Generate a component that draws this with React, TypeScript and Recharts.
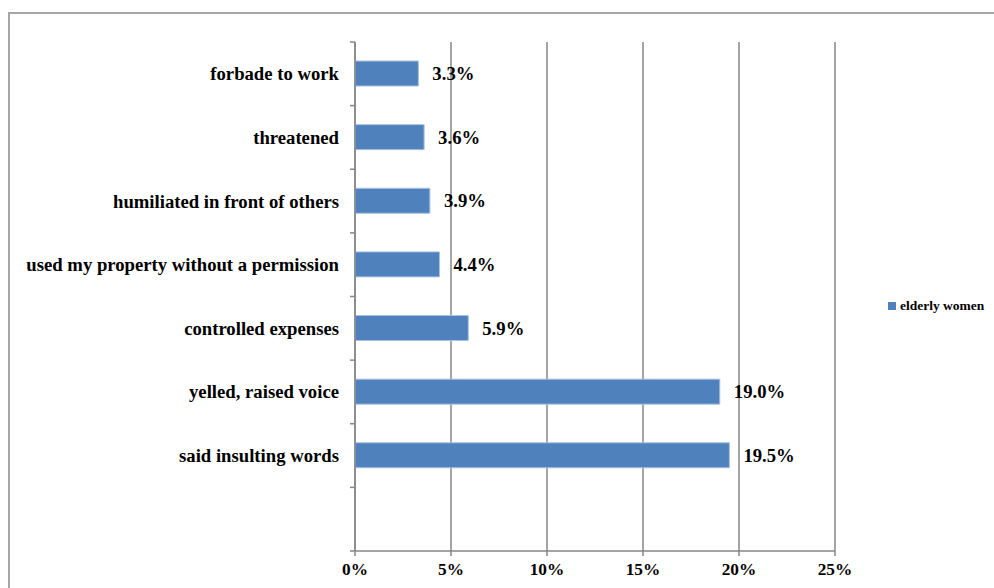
import { BarChart, Bar, XAxis, YAxis, CartesianGrid, Legend, LabelList } from "recharts";

// top to bottom; the last slot is an empty category in the original
const categories = [
  "forbade to work",
  "threatened",
  "humiliated in front of others",
  "used my property without a permission",
  "controlled expenses",
  "yelled, raised voice",
  "said insulting words",
  "",
];
const elderlyWomen: (number | null)[] = [3.3, 3.6, 3.9, 4.4, 5.9, 19.0, 19.5, null];
const xTicks = [0, 5, 10, 15, 20, 25];

const FONT = "'Liberation Serif', 'Times New Roman', serif";
const GRID = "#878787";

const data = categories.map((name, i) => ({ name, value: elderlyWomen[i] }));

// category label at the band centre, tick marks at the band edges
function CategoryTick(props: any) {
  const { x, y, payload, index, visibleTicksCount } = props;
  const half = payload.offset ?? 0;
  const ax = x + 16; // back to the axis line
  const last = index === visibleTicksCount - 1;
  return (
    <g>
      <line x1={ax - 5} x2={ax} y1={y - half} y2={y - half} stroke={GRID} strokeWidth={1.5} />
      {last && <line x1={ax - 5} x2={ax} y1={y + half} y2={y + half} stroke={GRID} strokeWidth={1.5} />}
      <text
        x={x}
        y={y}
        dy="0.35em"
        textAnchor="end"
        fill="#000"
        fontSize={18.7}
        fontWeight="bold"
        fontFamily={FONT}
      >
        {payload.value}
      </text>
    </g>
  );
}

export default function App() {
  return (
    <div style={{ position: "fixed", left: 0, top: 0, width: 994, height: 588, overflow: "hidden", background: "#fff" }}>
      <div
        style={{
          position: "absolute",
          left: 8,
          top: 12,
          width: 1000,
          height: 600,
          border: "2px solid #a6a6a6",
        }}
      />
      <div style={{ position: "absolute", left: 0, top: 0 }}>
        <BarChart
          width={994}
          height={588}
          data={data}
          layout="vertical"
          margin={{ top: 42, right: 49, bottom: 7, left: 10 }}
          barSize={25}
        >
          <CartesianGrid horizontal={false} stroke={GRID} strokeWidth={1.5} />
          <XAxis
            type="number"
            domain={[0, 25]}
            ticks={xTicks}
            tickFormatter={(v) => `${v}%`}
            axisLine={{ stroke: GRID, strokeWidth: 1.5 }}
            tickLine={{ stroke: GRID, strokeWidth: 1.5 }}
            tickSize={5}
            tickMargin={7}
            height={30}
            tick={{ fill: "#000", fontSize: 17.3, fontWeight: "bold", fontFamily: FONT }}
          />
          <YAxis
            type="category"
            dataKey="name"
            width={345}
            axisLine={{ stroke: GRID, strokeWidth: 1.5 }}
            tickLine={false}
            tickSize={6}
            tickMargin={10}
            interval={0}
            tick={<CategoryTick />}
          />
          <Legend
            layout="vertical"
            align="right"
            verticalAlign="middle"
            iconType="square"
            iconSize={8}
            wrapperStyle={{ left: 888, top: 296, width: 110, right: "auto" }}
            formatter={(v) => (
              <span style={{ color: "#000", fontSize: 13.5, fontWeight: "bold", fontFamily: FONT }}>{v}</span>
            )}
          />
          <Bar
            dataKey="value"
            name="elderly women"
            fill="#4F81BD"
            stroke="#a9c1e1"
            strokeWidth={1}
            isAnimationActive={false}
          >
            <LabelList
              dataKey="value"
              position="right"
              offset={14}
              formatter={(v: any) => (v == null ? "" : `${Number(v).toFixed(1)}%`)}
              style={{ fill: "#000", fontSize: 18.7, fontWeight: "bold", fontFamily: FONT }}
            />
          </Bar>
        </BarChart>
      </div>
    </div>
  );
}
